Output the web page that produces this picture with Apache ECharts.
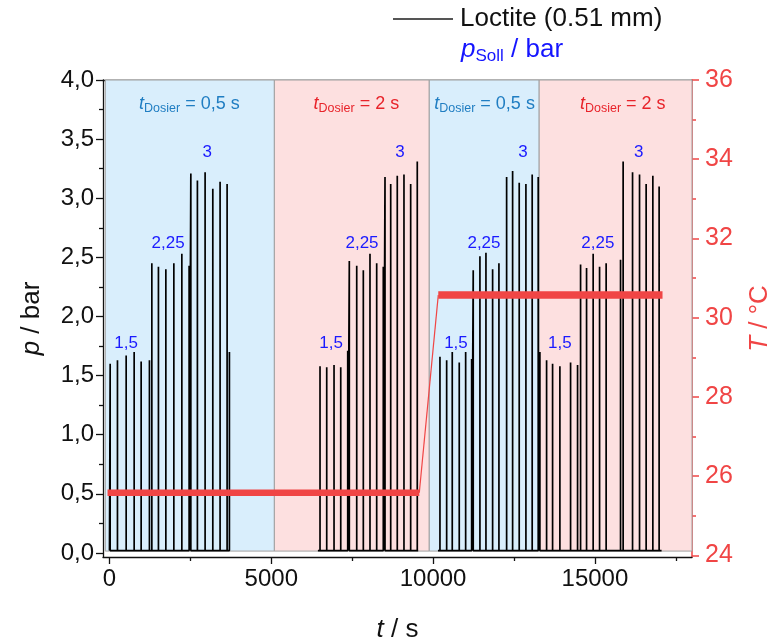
<!DOCTYPE html>
<html><head><meta charset="utf-8">
<script src="https://cdn.jsdelivr.net/npm/echarts@6/dist/echarts.min.js"></script>
<style>html,body{margin:0;padding:0;background:#fff}#c{width:774px;height:642px}</style>
</head><body><div id="c"></div>
<script>
// ---------- data ----------
const runA_t = [22,247,516,763,979,1235,1309,1513,1742,1989,2236,2461,2514,2717,2955,3193,3418,3635,3706];
const runA_p = [1.60,1.63,1.67,1.70,1.62,1.63,2.45,2.42,2.40,2.45,2.53,2.43,3.21,3.15,3.22,3.08,3.14,3.12,1.70];
const runB_t = [6506,6713,6939,7146,7362,7411,7640,7844,8050,8257,8461,8514,8690,8893,9100,9307,9511];
const runB_p = [1.58,1.57,1.59,1.57,1.71,2.47,2.43,2.39,2.53,2.45,2.42,3.18,3.12,3.19,3.20,3.12,3.31];
const runC_t = [10212,10419,10592,10808,11006,11191,11240,11447,11633,11839,12034,12272,12457,12661,12868,13062,13248,
                13300,13507,13692,13918,14248,14464,14557,14742,14946,15144,15347,15792,15872,16163,16379,16583,16790,16984];
const runC_p = [1.66,1.63,1.70,1.61,1.70,1.64,2.39,2.51,2.54,2.40,2.45,3.18,3.23,3.13,3.12,3.20,3.18,
                1.70,1.63,1.60,1.58,1.61,1.59,2.44,2.41,2.53,2.42,2.45,2.48,3.31,3.22,3.20,3.12,3.19,3.10];
const runStart = [0, 6440, 10150];
const runEnd = [3720, 9540, 17060];
const baseP = 0.02;

const tempBandA_t = [-60, 9573];
const tempBandA_v = [25.58, 25.58];
const tempRamp_t = [9573, 10160];
const tempRamp_v = [25.58, 30.57];
const tempBandB_t = [10160, 17089];
const tempBandB_v = [30.57, 30.57];

const bandStartT = [-130, 5095, 9882, 13278];
const bandEndT = [5095, 9882, 13278, 18000];
const bandKind = ['short', 'long', 'short', 'long'];
const bandLabelT = [2470, 7630, 11590, 15860];
const bandLabelP = 3.80;
const bandLabelText = ['0,5', '2', '0,5', '2'];

const groupLabelT = [516, 1813, 3017, 6846, 7804, 8977, 10707, 11572, 12776, 13918, 15091, 16357];
const groupLabelP = [1.77, 2.62, 3.39, 1.77, 2.62, 3.39, 1.77, 2.62, 3.39, 1.77, 2.62, 3.39];
const groupLabelText = ['1,5', '2,25', '3', '1,5', '2,25', '3', '1,5', '2,25', '3', '1,5', '2,25', '3'];

const xMajorTicks = [0, 5000, 10000, 15000];
const xMinorTicks = [2500, 7500, 12500, 17500];
const xTopTicks = [0, 2500, 5000, 7500, 10000, 12500, 15000, 17500];
const pMajorTicks = [0, 0.5, 1, 1.5, 2, 2.5, 3, 3.5, 4];
const pMinorTicks = [0.25, 0.75, 1.25, 1.75, 2.25, 2.75, 3.25, 3.75];
const tMajorTicks = [24, 26, 28, 30, 32, 34, 36];
const tMinorTicks = [25, 27, 29, 31, 33, 35];

// ---------- build ----------
const FONT = 'Liberation Sans, Arial, sans-serif';
const RED = '#f04545';
const TICKFS = 24;
const runs = [[runA_t, runA_p], [runB_t, runB_p], [runC_t, runC_p]];
const pressureData = [];
runs.forEach(([ts, ps], i) => {
  pressureData.push([runStart[i], baseP]);
  ts.forEach((t, k) => {
    pressureData.push([t, baseP], [t, ps[k]], [t, baseP]);
  });
  pressureData.push([runEnd[i], baseP]);
  pressureData.push([runEnd[i] + 1, null]);
});
const zip = (a, b) => a.map((v, i) => [v, b[i]]);

const bandFill = { short: '#d9eefc', long: '#fde0e0' };
const bandText = { short: '#1f7dc2', long: '#e8232a' };

const chart = echarts.init(document.getElementById('c'), null, { renderer: 'canvas' });
chart.setOption({
  animation: false,
  textStyle: { fontFamily: FONT },
  grid: { left: 103, right: 82, top: 80, bottom: 85, outerBoundsMode: 'none', containLabel: false },
  legend: {
    left: 393, top: 6, padding: 0, itemWidth: 60, itemHeight: 2,
    data: [{ name: 'Loctite (0.51 mm)', icon: 'rect', itemStyle: { color: '#555' } }],
    textStyle: { fontSize: 26, color: '#111', fontFamily: FONT, padding: [0, 0, 0, 2] }
  },
  graphic: [{
    type: 'text', left: 461, top: 37,
    style: {
      text: '{i|p}{s|Soll}{n| / bar}',
      rich: {
        i: { fontSize: 26, fontStyle: 'italic', fill: '#1515ff', fontFamily: FONT, lineHeight: 30 },
        s: { fontSize: 17, fill: '#1515ff', fontFamily: FONT, verticalAlign: 'bottom', lineHeight: 19 },
        n: { fontSize: 26, fill: '#1515ff', fontFamily: FONT, lineHeight: 30 }
      }
    }
  }],
  xAxis: [
    {
      type: 'value', position: 'bottom', min: -200, max: 18000,
      axisLine: { show: true, onZero: false, lineStyle: { color: '#111', width: 1.3 } },
      axisTick: { show: true, customValues: xMajorTicks, length: 7, lineStyle: { color: '#111', width: 1.3 } },
      axisLabel: { customValues: xMajorTicks, fontSize: TICKFS, color: '#111', margin: 10, fontFamily: FONT,
        formatter: v => String(Math.round(v)) },
      splitLine: { show: false },
      name: '{i|t} / s', nameLocation: 'middle', nameGap: 60,
      nameTextStyle: { fontSize: 26, color: '#111', fontFamily: FONT,
        rich: { i: { fontStyle: 'italic', fontSize: 26, fontFamily: FONT } } }
    },
    {
      type: 'value', position: 'bottom', min: -200, max: 18000,
      axisLine: { show: false, onZero: false },
      axisTick: { show: true, customValues: xMinorTicks, length: 4, lineStyle: { color: '#111', width: 1.3 } },
      axisLabel: { show: false }, splitLine: { show: false }
    },
    {
      type: 'value', position: 'top', min: -200, max: 18000,
      axisLine: { show: true, onZero: false, lineStyle: { color: '#111', width: 1.3 } },
      axisTick: { show: true, inside: true, customValues: xTopTicks, length: 6, lineStyle: { color: '#111', width: 1.3 } },
      axisLabel: { show: false }, splitLine: { show: false }
    }
  ],
  yAxis: [
    {
      type: 'value', position: 'left', min: -0.034, max: 4,
      axisLine: { show: true, onZero: false, lineStyle: { color: '#111', width: 1.3 } },
      axisTick: { show: true, customValues: pMajorTicks, length: 7, lineStyle: { color: '#111', width: 1.3 } },
      axisLabel: { customValues: pMajorTicks, fontSize: TICKFS, color: '#111', margin: 9, fontFamily: FONT,
        formatter: v => v.toFixed(1).replace('.', ',') },
      splitLine: { show: false },
      name: '{i|p} / bar', nameLocation: 'middle', nameGap: 58, nameRotate: 90,
      nameTextStyle: { fontSize: 26, color: '#111', fontFamily: FONT,
        rich: { i: { fontStyle: 'italic', fontSize: 26, fontFamily: FONT } } }
    },
    {
      type: 'value', position: 'left', min: -0.034, max: 4,
      axisLine: { show: false, onZero: false },
      axisTick: { show: true, customValues: pMinorTicks, length: 4, lineStyle: { color: '#111', width: 1.3 } },
      axisLabel: { show: false }, splitLine: { show: false }
    },
    {
      type: 'value', position: 'right', min: 23.957, max: 36,
      axisLine: { show: true, onZero: false, lineStyle: { color: RED, width: 1.5 } },
      axisTick: { show: true, customValues: tMajorTicks, length: 7, lineStyle: { color: RED, width: 1.5 } },
      axisLabel: { customValues: tMajorTicks, fontSize: TICKFS + 1, color: RED, margin: 13, fontFamily: FONT },
      splitLine: { show: false },
      name: '{i|T} / °C', nameLocation: 'middle', nameGap: 55, nameRotate: 90,
      nameTextStyle: { fontSize: 26, color: RED, fontFamily: FONT,
        rich: { i: { fontStyle: 'italic', fontSize: 26, color: RED, fontFamily: FONT } } }
    },
    {
      type: 'value', position: 'right', min: 23.957, max: 36,
      axisLine: { show: false, onZero: false },
      axisTick: { show: true, customValues: tMinorTicks, length: 4, lineStyle: { color: RED, width: 1.5 } },
      axisLabel: { show: false }, splitLine: { show: false }
    }
  ],
  series: [
    {
      name: 'Loctite (0.51 mm)', type: 'line', xAxisIndex: 0, yAxisIndex: 0,
      data: pressureData, showSymbol: false, symbol: 'none', connectNulls: false,
      lineStyle: { color: '#000', width: 1.7 }, itemStyle: { color: '#000' },
      markArea: {
        silent: true,
        data: bandStartT.map((s, i) => [
          { xAxis: s, yAxis: 0.016, itemStyle: { color: bandFill[bandKind[i]], borderColor: '#a0a0a0', borderWidth: 1 } },
          { xAxis: bandEndT[i], yAxis: 4 }
        ])
      }
    },
    {
      name: 'TbandA', type: 'line', xAxisIndex: 0, yAxisIndex: 2,
      data: zip(tempBandA_t, tempBandA_v), symbol: 'none',
      lineStyle: { color: RED, width: 6.5 }
    },
    {
      name: 'Tramp', type: 'line', xAxisIndex: 0, yAxisIndex: 2,
      data: zip(tempRamp_t, tempRamp_v), symbol: 'none',
      lineStyle: { color: RED, width: 1.2 }
    },
    {
      name: 'TbandB', type: 'line', xAxisIndex: 0, yAxisIndex: 2,
      data: zip(tempBandB_t, tempBandB_v), symbol: 'none',
      lineStyle: { color: RED, width: 7.5 }
    },
    {
      name: 'bandLabels', type: 'scatter', xAxisIndex: 0, yAxisIndex: 0,
      symbolSize: 1, itemStyle: { color: 'rgba(0,0,0,0)', opacity: 1 }, silent: true, z: 5,
      data: bandLabelT.map((t, i) => ({
        value: [t, bandLabelP],
        label: {
          show: true, position: 'inside', textBorderWidth: 0,
          formatter: '{t|t}{s|Dosier}{n| = ' + bandLabelText[i] + ' s}',
          rich: {
            t: { fontSize: 18, fontStyle: 'italic', color: bandText[bandKind[i]], fontFamily: FONT, lineHeight: 22 },
            s: { fontSize: 12.5, color: bandText[bandKind[i]], fontFamily: FONT, verticalAlign: 'bottom', lineHeight: 13 },
            n: { fontSize: 18, color: bandText[bandKind[i]], fontFamily: FONT, lineHeight: 22 }
          }
        }
      }))
    },
    {
      name: 'groupLabels', type: 'scatter', xAxisIndex: 0, yAxisIndex: 0,
      symbolSize: 1, itemStyle: { color: 'rgba(0,0,0,0)', opacity: 1 }, silent: true, z: 5,
      data: groupLabelT.map((t, i) => ({ value: [t, groupLabelP[i]], name: groupLabelText[i] })),
      label: { show: true, position: 'inside', formatter: p => p.name, textBorderWidth: 0,
        fontSize: 17, color: '#1a1aff', fontFamily: FONT }
    }
  ]
});
</script></body></html>
